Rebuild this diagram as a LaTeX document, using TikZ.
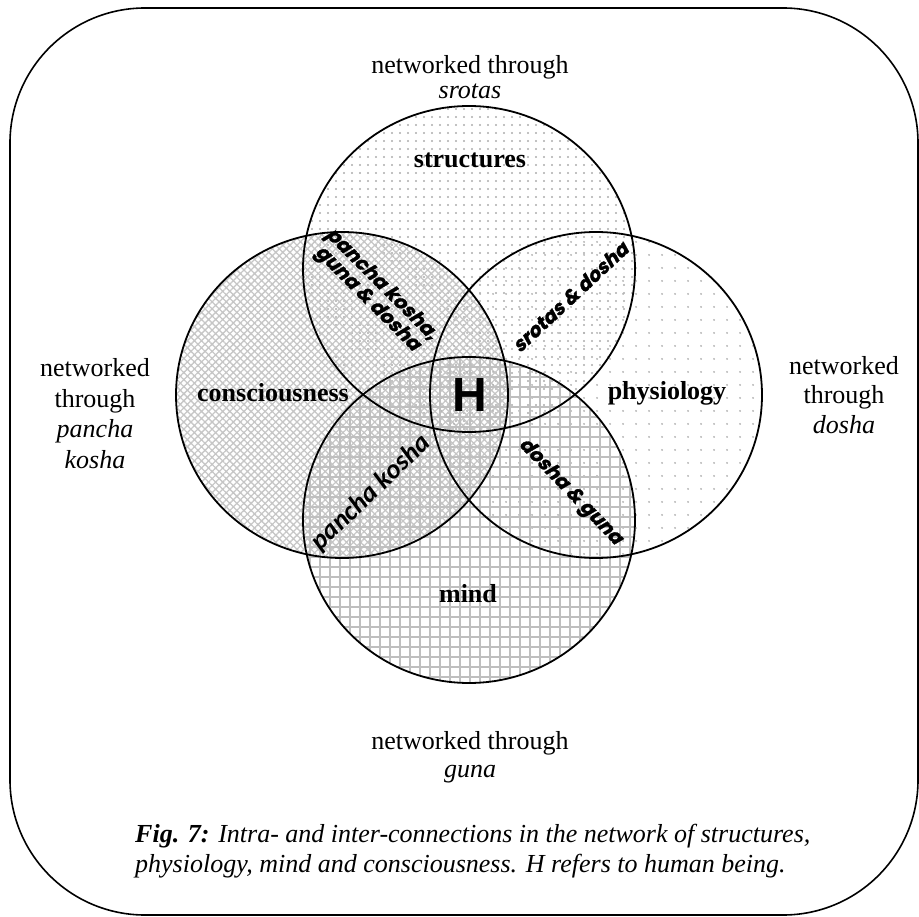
\documentclass[tikz,border=0pt]{standalone}
\usepackage{fontspec}
\setmainfont{Liberation Serif}
\newfontfamily\comicfont{Poppins}[UprightFeatures={FakeSlant=0.25}, BoldFeatures={FakeSlant=0.25, FakeBold=1.5}]
\newfontfamily\califont{Carlito}
\newfontfamily\hfont{Liberation Sans}
\usetikzlibrary{patterns.meta}

\begin{document}
\begin{tikzpicture}[x=1pt,y=-1pt,
  ring/.style={draw=black, line width=1.8pt},
  big/.style={font=\fontsize{26}{30}\selectfont\bfseries, anchor=base, inner sep=0pt},
  txt/.style={font=\fontsize{26}{30}\selectfont, anchor=base, inner sep=0pt},
  itx/.style={font=\fontsize{26}{30}\selectfont\itshape, anchor=base, inner sep=0pt},
  lens/.style={font=\fontsize{19.5}{20}\selectfont\comicfont\bfseries, inner sep=0pt, align=center},
  captxt/.style={font=\fontsize{26}{30}\selectfont\itshape, anchor=base west, inner sep=0pt},
]
\useasboundingbox (0,0) rectangle (919,917);

% frame
\draw[line width=1.6pt, rounded corners=135pt] (10,8) rectangle (918,915);

% circle centres
\coordinate (cS) at (469,269);
\coordinate (cC) at (342,395);
\coordinate (cP) at (596,395);
\coordinate (cM) at (469,520);

% textured fills
\fill[pattern={Dots[distance=8pt,radius=1.2pt]}, pattern color=gray!65] (cS) ellipse[x radius=166, y radius=163];
\fill[pattern={Hatch[angle=45,distance=5pt,line width=1.3pt]}, pattern color=gray!45] (cC) ellipse[x radius=166, y radius=163];
\fill[pattern={Dots[distance=13pt,radius=1.1pt]}, pattern color=gray!60] (cP) ellipse[x radius=166, y radius=163];
\fill[pattern={Hatch[angle=0,distance=10pt,line width=2pt]}, pattern color=gray!50] (cM) ellipse[x radius=166, y radius=163];

% outlines
\draw[ring] (cS) ellipse[x radius=166, y radius=163];
\draw[ring] (cC) ellipse[x radius=166, y radius=163];
\draw[ring] (cP) ellipse[x radius=166, y radius=163];
\draw[ring] (cM) ellipse[x radius=166, y radius=163];

% circle labels
\node[big] (structures) at (470,168) {structures};
\node[big] (consciousness) at (273,402) {consciousness};
\node[big] (physiology) at (667,400) {physiology};
\node[big] (mind) at (468,602) {mind};
\node[font=\fontsize{48}{50}\selectfont\hfont\bfseries, inner sep=0pt] (H) at (470,395) {H};

% overlap labels
\node[lens, rotate=-45] (pkgd) at (374,292) {pancha kosha,\\guna \& dosha};
\node[lens, rotate=43] (sd) at (570,297) {srotas \& dosha};
\node[lens, rotate=-46] (dg) at (570,492) {dosha \& guna};
\node[font=\fontsize{27}{30}\selectfont\califont\bfseries\itshape, inner sep=0pt, rotate=44] (pk) at (371,493) {pancha kosha};

% network labels
\node[txt] (t1) at (470,74) {networked through};
\node[itx] (t2) at (470,99) {srotas};
\node[txt] (b1) at (470,749) {networked through};
\node[itx] (b2) at (470,777) {guna};
\node[txt] (l1) at (95,377) {networked};
\node[txt] (l2) at (95,407) {through};
\node[itx] (l3) at (95,438) {pancha};
\node[itx] (l4) at (95,468) {kosha};
\node[txt] (r1) at (844,375) {networked};
\node[txt] (r2) at (844,404) {through};
\node[itx] (r3) at (844,433) {dosha};

% caption
\node[captxt] (cap1) at (135,842) {\bfseries Fig. 7:\mdseries{} Intra- and inter-connections in the network of structures,};
\node[captxt] (cap2) at (135,872) {physiology, mind and consciousness. H refers to human being.};
\end{tikzpicture}
\end{document}
